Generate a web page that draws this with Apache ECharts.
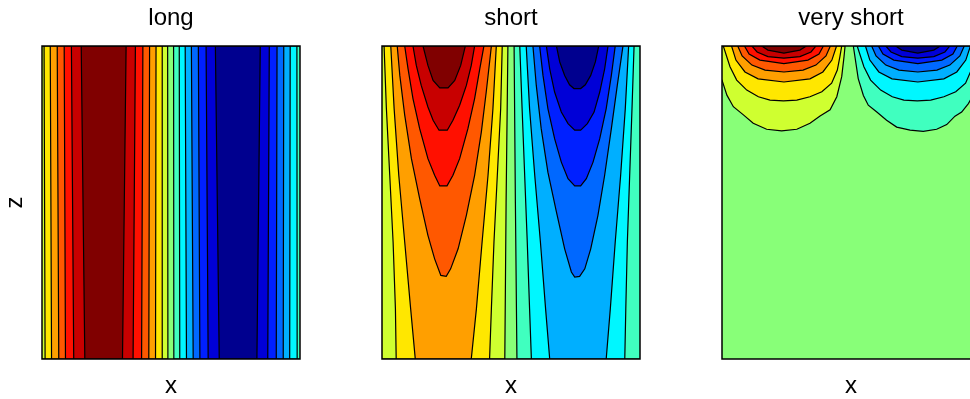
<!DOCTYPE html>
<html>
<head>
<meta charset="utf-8">
<script src="https://cdn.jsdelivr.net/npm/echarts@6/dist/echarts.min.js"></script>
<style>
  html, body { margin: 0; padding: 0; background: #ffffff; overflow: hidden; }
  #chart { width: 970px; height: 399px; }
</style>
</head>
<body>
<div id="chart"></div>
<script>
// Panel titles and axis names
const panelTitles = ['long', 'short', 'very short'];
const xName = 'x';
const zName = 'z';

// 15 filled levels (jet-style ramp) from the most negative (index 0) to the most positive (index 14);
// index 7 is the band around zero.
const levelColors = ['#00008F', '#0000D7', '#0020FF', '#0068FF', '#00AFFF', '#00F7FF', '#40FFBF',
                     '#88FF78', '#CFFF30', '#FFE700', '#FF9F00', '#FF5800', '#FF1000', '#C80000', '#800000'];
const zeroLevel = 7;

// Contour regions: each path is a closed polygon in panel units
// (x from 0 to 1 across the panel, z from -1 at the bottom to 0 at the surface).
// "Positive" paths enclose values above levels +1..+7, "negative" paths values below -1..-7.
const longPositive = [
  [[-0.012, 0], [-0.012, -1], [0.488, -1], [0.487, 0]],
  [[0.008, 0], [0.012, -1], [0.466, -1], [0.466, 0]],
  [[0.032, 0], [0.037, -1], [0.440, -1], [0.442, 0]],
  [[0.059, 0], [0.065, -1], [0.414, -1], [0.417, 0]],
  [[0.086, 0], [0.091, -1], [0.386, -1], [0.391, 0]],
  [[0.114, 0], [0.123, -1], [0.353, -1], [0.362, 0]],
  [[0.152, 0], [0.166, -1], [0.312, -1], [0.326, 0]]
];
const longNegative = [
  [[0.510, 0], [0.511, -1], [1.012, -1], [1.012, 0]],
  [[0.532, 0], [0.534, -1], [0.989, -1], [0.988, 0]],
  [[0.555, 0], [0.560, -1], [0.960, -1], [0.962, 0]],
  [[0.579, 0], [0.586, -1], [0.935, -1], [0.937, 0]],
  [[0.606, 0], [0.612, -1], [0.908, -1], [0.911, 0]],
  [[0.636, 0], [0.644, -1], [0.875, -1], [0.881, 0]],
  [[0.672, 0], [0.687, -1], [0.833, -1], [0.846, 0]]
];

const shortPositive = [
  [[-0.012, 0], [-0.012, -1], [0.476, -1], [0.481, -0.5], [0.488, 0]],
  [[0.008, 0], [0.017, -0.2], [0.030, -0.413], [0.043, -0.626], [0.052, -0.839], [0.055, -1],
   [0.417, -1], [0.424, -0.839], [0.434, -0.626], [0.447, -0.413], [0.460, -0.2], [0.466, 0]],
  [[0.034, 0], [0.047, -0.2], [0.065, -0.413], [0.088, -0.626], [0.111, -0.839], [0.129, -1],
   [0.346, -1], [0.366, -0.839], [0.388, -0.626], [0.411, -0.413], [0.430, -0.2], [0.443, 0]],
  [[0.059, 0], [0.069, -0.094], [0.088, -0.221], [0.114, -0.360], [0.146, -0.488], [0.178, -0.605],
   [0.204, -0.680], [0.228, -0.733], [0.249, -0.736], [0.266, -0.712], [0.295, -0.648],
   [0.327, -0.541], [0.359, -0.413], [0.385, -0.275], [0.404, -0.147], [0.424, 0]],
  [[0.088, 0], [0.101, -0.073], [0.120, -0.168], [0.146, -0.264], [0.178, -0.360], [0.204, -0.413],
   [0.224, -0.447], [0.252, -0.447], [0.275, -0.413], [0.301, -0.360], [0.333, -0.264],
   [0.359, -0.168], [0.379, -0.073], [0.395, 0]],
  [[0.120, 0], [0.133, -0.062], [0.152, -0.126], [0.178, -0.195], [0.198, -0.237], [0.221, -0.269],
   [0.253, -0.269], [0.275, -0.237], [0.301, -0.189], [0.327, -0.126], [0.346, -0.062], [0.359, 0]],
  [[0.159, 0], [0.178, -0.062], [0.198, -0.110], [0.224, -0.134], [0.256, -0.134], [0.282, -0.110],
   [0.305, -0.062], [0.323, 0]]
];
const shortNegative = [
  [[0.512, 0], [0.517, -0.5], [0.523, -1], [1.016, -1], [1.016, 0]],
  [[0.534, 0], [0.543, -0.2], [0.553, -0.413], [0.563, -0.626], [0.572, -0.839], [0.579, -1],
   [0.941, -1], [0.945, -0.839], [0.951, -0.626], [0.960, -0.413], [0.969, -0.2], [0.977, 0]],
  [[0.559, 0], [0.572, -0.2], [0.592, -0.413], [0.614, -0.626], [0.634, -0.839], [0.650, -1],
   [0.869, -1], [0.885, -0.839], [0.904, -0.626], [0.925, -0.413], [0.943, -0.2], [0.956, 0]],
  [[0.585, 0], [0.598, -0.126], [0.617, -0.264], [0.643, -0.403], [0.676, -0.530], [0.708, -0.648],
   [0.734, -0.722], [0.747, -0.738], [0.766, -0.736], [0.786, -0.712], [0.809, -0.648],
   [0.837, -0.541], [0.863, -0.413], [0.889, -0.264], [0.912, -0.126], [0.934, 0]],
  [[0.611, 0], [0.624, -0.094], [0.643, -0.200], [0.669, -0.296], [0.695, -0.371], [0.721, -0.424],
   [0.747, -0.447], [0.770, -0.447], [0.792, -0.424], [0.818, -0.371], [0.844, -0.296],
   [0.869, -0.200], [0.889, -0.094], [0.904, 0]],
  [[0.637, 0], [0.650, -0.073], [0.669, -0.147], [0.695, -0.211], [0.721, -0.248], [0.747, -0.269],
   [0.770, -0.269], [0.796, -0.248], [0.822, -0.211], [0.844, -0.147], [0.863, -0.073], [0.876, 0]],
  [[0.676, 0], [0.689, -0.051], [0.708, -0.094], [0.727, -0.124], [0.744, -0.136], [0.770, -0.136],
   [0.788, -0.124], [0.809, -0.094], [0.827, -0.051], [0.840, 0]]
];

const vshortPositive = [
  [[-0.02, 0], [-0.02, -0.1], [0, -0.109], [0.019, -0.157], [0.044, -0.194], [0.083, -0.220],
   [0.121, -0.247], [0.173, -0.266], [0.231, -0.271], [0.290, -0.266], [0.341, -0.247],
   [0.380, -0.224], [0.419, -0.204], [0.445, -0.162], [0.464, -0.098], [0.473, -0.034], [0.477, 0]],
  [[0.005, 0], [0.031, -0.066], [0.057, -0.109], [0.096, -0.141], [0.141, -0.162], [0.186, -0.173],
   [0.238, -0.175], [0.290, -0.173], [0.341, -0.162], [0.387, -0.146], [0.425, -0.119],
   [0.447, -0.077], [0.457, -0.034], [0.464, 0]],
  [[0.037, 0], [0.054, -0.045], [0.089, -0.083], [0.140, -0.105], [0.240, -0.115], [0.341, -0.105],
   [0.391, -0.083], [0.426, -0.045], [0.444, 0]],
  [[0.061, 0], [0.078, -0.032], [0.116, -0.061], [0.167, -0.077], [0.240, -0.083], [0.314, -0.077],
   [0.364, -0.061], [0.403, -0.032], [0.420, 0]],
  [[0.087, 0], [0.105, -0.026], [0.147, -0.045], [0.240, -0.056], [0.333, -0.045], [0.376, -0.026],
   [0.393, 0]],
  [[0.116, 0], [0.136, -0.019], [0.178, -0.034], [0.240, -0.039], [0.302, -0.034], [0.345, -0.019],
   [0.364, 0]],
  [[0.154, 0], [0.178, -0.013], [0.240, -0.023], [0.302, -0.013], [0.327, 0]]
];
const vshortNegative = [
  [[0.509, 0], [0.528, -0.104], [0.548, -0.158], [0.567, -0.189], [0.600, -0.211], [0.638, -0.237],
   [0.677, -0.259], [0.729, -0.269], [0.780, -0.273], [0.832, -0.266], [0.871, -0.251],
   [0.903, -0.224], [0.929, -0.211], [0.955, -0.184], [0.981, -0.147], [1.0, -0.109],
   [1.02, -0.1], [1.02, 0]],
  [[0.524, 0], [0.550, -0.066], [0.576, -0.109], [0.615, -0.141], [0.660, -0.162], [0.705, -0.173],
   [0.757, -0.175], [0.809, -0.173], [0.860, -0.162], [0.906, -0.146], [0.944, -0.119],
   [0.966, -0.077], [0.976, -0.034], [0.983, 0]],
  [[0.556, 0], [0.573, -0.045], [0.608, -0.083], [0.659, -0.105], [0.759, -0.115], [0.860, -0.105],
   [0.910, -0.083], [0.945, -0.045], [0.963, 0]],
  [[0.580, 0], [0.597, -0.032], [0.635, -0.061], [0.686, -0.077], [0.759, -0.083], [0.833, -0.077],
   [0.883, -0.061], [0.922, -0.032], [0.939, 0]],
  [[0.606, 0], [0.624, -0.026], [0.666, -0.045], [0.759, -0.056], [0.852, -0.045], [0.895, -0.026],
   [0.912, 0]],
  [[0.635, 0], [0.655, -0.019], [0.697, -0.034], [0.759, -0.039], [0.821, -0.034], [0.864, -0.019],
   [0.883, 0]],
  [[0.673, 0], [0.697, -0.013], [0.759, -0.023], [0.821, -0.013], [0.846, 0]]
];

const panelRegions = [
  [longPositive, longNegative],
  [shortPositive, shortNegative],
  [vshortPositive, vshortNegative]
];

// Flatten one panel into draw order: zero band first, then nested bands outward-in.
function buildItems(pos, neg) {
  const items = [{ kind: 'fill', level: zeroLevel, path: [[0, 0], [0, -1], [1, -1], [1, 0]] }];
  pos.forEach((p, i) => items.push({ kind: 'band', level: zeroLevel + 1 + i, path: p }));
  neg.forEach((p, i) => items.push({ kind: 'band', level: zeroLevel - 1 - i, path: p }));
  items.push({ kind: 'frame' });
  return items;
}

const FONT = "'Liberation Sans', Arial, Helvetica, sans-serif";
const gridLefts = [42, 382, 722];
// the third panel is wider than what is left of the canvas, so bounds are not enforced
const grids = gridLefts.map(l => ({
  left: l, top: 46, width: 258, height: 313,
  outerBoundsMode: 'none', containLabel: false
}));

const hiddenAxis = {
  axisLine: { show: false }, axisTick: { show: false },
  axisLabel: { show: false }, splitLine: { show: false }
};

const xAxes = grids.map((g, i) => Object.assign({
  type: 'value', gridIndex: i, min: 0, max: 1,
  name: xName, nameLocation: 'middle', nameGap: 15,
  nameTextStyle: { fontFamily: FONT, fontSize: 24, color: '#000' }
}, hiddenAxis));

const yAxes = grids.map((g, i) => Object.assign({
  type: 'value', gridIndex: i, min: -1, max: 0,
  name: i === 0 ? zName : '', nameLocation: 'middle', nameGap: 15, nameRotate: 90,
  nameTextStyle: { fontFamily: FONT, fontSize: 24, color: '#000' }
}, hiddenAxis));

const series = panelRegions.map((pr, i) => {
  const items = buildItems(pr[0], pr[1]);
  return {
    type: 'custom',
    xAxisIndex: i, yAxisIndex: i,
    silent: true,
    animation: false,
    data: items.map((it, k) => [k]),
    renderItem: function (params, api) {
      const it = items[params.dataIndex];
      const cs = params.coordSys;
      if (it.kind === 'frame') {
        return {
          type: 'rect',
          shape: { x: cs.x, y: cs.y, width: cs.width, height: cs.height },
          style: { fill: null, stroke: '#000', lineWidth: 1.5 }
        };
      }
      const pts = it.path.map(q => api.coord(q));
      return {
        type: 'polygon',
        shape: { points: pts },
        style: {
          fill: levelColors[it.level],
          stroke: it.kind === 'band' ? '#000' : null,
          lineWidth: 1.2
        },
        clipPath: {
          type: 'rect',
          shape: { x: cs.x, y: cs.y, width: cs.width, height: cs.height }
        }
      };
    }
  };
});

const titles = panelTitles.map((t, i) => ({
  type: 'text',
  x: gridLefts[i] + 129,
  y: 18,
  style: {
    text: t, font: '24px ' + FONT, fill: '#000',
    textAlign: 'center', textVerticalAlign: 'middle'
  }
}));

const chart = echarts.init(document.getElementById('chart'), null, { renderer: 'canvas' });
chart.setOption({
  animation: false,
  backgroundColor: '#ffffff',
  grid: grids,
  xAxis: xAxes,
  yAxis: yAxes,
  series: series,
  graphic: titles
});
</script>
</body>
</html>
